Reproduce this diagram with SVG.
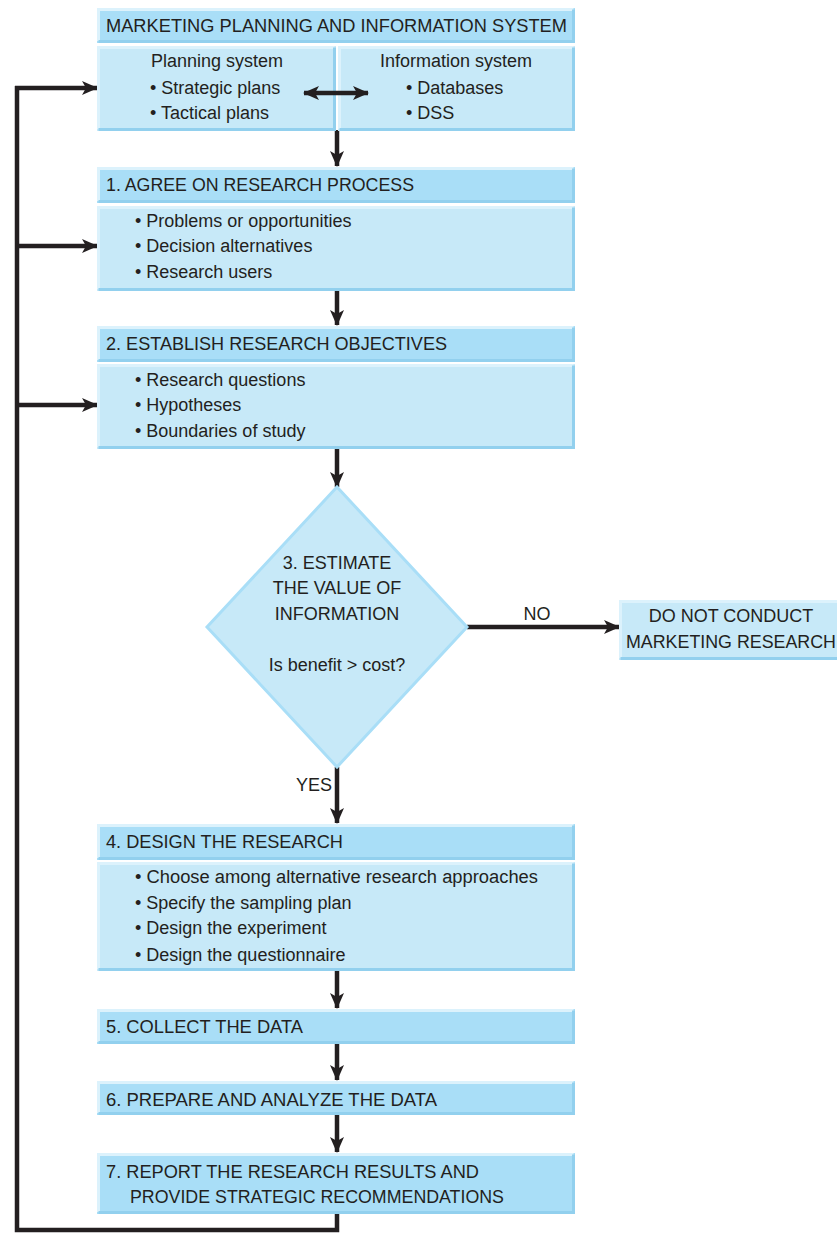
<svg xmlns="http://www.w3.org/2000/svg" width="837" height="1233" viewBox="0 0 837 1233">
<defs>
<style>
.hd{fill:#a9def7}
.bd{fill:#c7e9f8}
.hl{fill:none;stroke:#dcf2fc;stroke-width:3}
.sh{fill:none;stroke:#92d0ee;stroke-width:3}
.t{font-family:"Liberation Sans",Arial,sans-serif;font-size:18px;fill:#231f20}
.c{text-anchor:middle}
.ln{fill:none;stroke:#231f20;stroke-width:4.5}
</style>
<marker id="ah" markerUnits="userSpaceOnUse" markerWidth="16" markerHeight="14" refX="15" refY="7" orient="auto-start-reverse">
<path d="M0,0 L16,7 L0,14 L4,7 Z" fill="#231f20"/>
</marker>
</defs>
<rect width="837" height="1233" fill="#fff"/>

<g id="connectors">
<path class="ln" d="M337,130 V166" marker-end="url(#ah)"/>
<path class="ln" d="M337,290 V325" marker-end="url(#ah)"/>
<path class="ln" d="M337,449 V487" marker-end="url(#ah)"/>
<path class="ln" d="M467,627 H619" marker-end="url(#ah)"/>
<path class="ln" d="M337,767 V823" marker-end="url(#ah)"/>
<path class="ln" d="M337,971 V1008" marker-end="url(#ah)"/>
<path class="ln" d="M337,1044 V1080" marker-end="url(#ah)"/>
<path class="ln" d="M337,1115 V1152" marker-end="url(#ah)"/>
<path class="ln" d="M337,1214 V1230 H17 V86"/>
<path class="ln" d="M15,88 H97" marker-end="url(#ah)"/>
<path class="ln" d="M17,246 H97" marker-end="url(#ah)"/>
<path class="ln" d="M17,405 H97" marker-end="url(#ah)"/>
<text class="t c" x="537" y="620">NO</text>
<text class="t c" x="314" y="791">YES</text>
</g>

<g id="mpis">
<rect class="hd" x="97" y="8" width="478" height="35"/>
<path class="hl" d="M98.5,41 V9.5 H573.5"/>
<path class="sh" d="M98.5,41.5 H573.5 V9.5"/>
<rect class="bd" x="97" y="46" width="239" height="85"/>
<path class="hl" d="M98.5,129 V47.5 H334.5"/>
<path class="sh" d="M98.5,129.5 H334.5 V47.5"/>
<rect class="bd" x="338" y="46" width="237" height="85"/>
<path class="hl" d="M339.5,129 V47.5 H573.5"/>
<path class="sh" d="M339.5,129.5 H573.5 V47.5"/>
<text class="t" x="106" y="32" textLength="461" lengthAdjust="spacingAndGlyphs">MARKETING PLANNING AND INFORMATION SYSTEM</text>
<text class="t c" x="217" y="67">Planning system</text>
<text class="t" x="150" y="94">• Strategic plans</text>
<text class="t" x="150" y="119">• Tactical plans</text>
<text class="t c" x="456" y="67">Information system</text>
<text class="t" x="406" y="94">• Databases</text>
<text class="t" x="406" y="119">• DSS</text>
<path class="ln" d="M304,93 H368" marker-start="url(#ah)" marker-end="url(#ah)"/>
</g>

<g id="step1">
<rect class="hd" x="97" y="167" width="478" height="36"/>
<path class="hl" d="M98.5,201 V168.5 H573.5"/>
<path class="sh" d="M98.5,201.5 H573.5 V168.5"/>
<rect class="bd" x="97" y="206" width="478" height="85"/>
<path class="hl" d="M98.5,289 V207.5 H573.5"/>
<path class="sh" d="M98.5,289.5 H573.5 V207.5"/>
<text class="t" x="106" y="191" textLength="308" lengthAdjust="spacingAndGlyphs">1. AGREE ON RESEARCH PROCESS</text>
<text class="t" x="135" y="227">• Problems or opportunities</text>
<text class="t" x="135" y="252">• Decision alternatives</text>
<text class="t" x="135" y="278">• Research users</text>
</g>

<g id="step2">
<rect class="hd" x="97" y="326" width="478" height="36"/>
<path class="hl" d="M98.5,360 V327.5 H573.5"/>
<path class="sh" d="M98.5,360.5 H573.5 V327.5"/>
<rect class="bd" x="97" y="364" width="478" height="85"/>
<path class="hl" d="M98.5,447 V365.5 H573.5"/>
<path class="sh" d="M98.5,447.5 H573.5 V365.5"/>
<text class="t" x="106" y="350" textLength="341" lengthAdjust="spacingAndGlyphs">2. ESTABLISH RESEARCH OBJECTIVES</text>
<text class="t" x="135" y="386">• Research questions</text>
<text class="t" x="135" y="411">• Hypotheses</text>
<text class="t" x="135" y="437">• Boundaries of study</text>
</g>

<g id="step3">
<polygon points="337,487 467,627 337,767 207,627" fill="#c7e9f8" stroke="#a9def7" stroke-width="3"/>
<text class="t c" x="337" y="569">3. ESTIMATE</text>
<text class="t c" x="337" y="594">THE VALUE OF</text>
<text class="t c" x="337" y="620">INFORMATION</text>
<text class="t c" x="337" y="671">Is benefit &gt; cost?</text>
</g>

<g id="noresearch">
<rect class="bd" x="619" y="600" width="218" height="60"/>
<path class="hl" d="M620.5,658 V601.5 H837"/>
<path class="sh" d="M620.5,658.5 H837"/>
<text class="t c" x="731" y="622">DO NOT CONDUCT</text>
<text class="t" x="626" y="648" textLength="210" lengthAdjust="spacingAndGlyphs">MARKETING RESEARCH</text>
</g>

<g id="step4">
<rect class="hd" x="97" y="824" width="478" height="36"/>
<path class="hl" d="M98.5,858 V825.5 H573.5"/>
<path class="sh" d="M98.5,858.5 H573.5 V825.5"/>
<rect class="bd" x="97" y="862" width="478" height="109"/>
<path class="hl" d="M98.5,969 V863.5 H573.5"/>
<path class="sh" d="M98.5,969.5 H573.5 V863.5"/>
<text class="t" x="106" y="848" textLength="237" lengthAdjust="spacingAndGlyphs">4. DESIGN THE RESEARCH</text>
<text class="t" x="135" y="883" textLength="403" lengthAdjust="spacingAndGlyphs">• Choose among alternative research approaches</text>
<text class="t" x="135" y="909">• Specify the sampling plan</text>
<text class="t" x="135" y="934">• Design the experiment</text>
<text class="t" x="135" y="961">• Design the questionnaire</text>
</g>

<g id="step5">
<rect class="hd" x="97" y="1009" width="478" height="35"/>
<path class="hl" d="M98.5,1042 V1010.5 H573.5"/>
<path class="sh" d="M98.5,1042.5 H573.5 V1010.5"/>
<text class="t" x="106" y="1033" textLength="197" lengthAdjust="spacingAndGlyphs">5. COLLECT THE DATA</text>
</g>

<g id="step6">
<rect class="hd" x="97" y="1081" width="478" height="34"/>
<path class="hl" d="M98.5,1113 V1082.5 H573.5"/>
<path class="sh" d="M98.5,1113.5 H573.5 V1082.5"/>
<text class="t" x="106" y="1106" textLength="331" lengthAdjust="spacingAndGlyphs">6. PREPARE AND ANALYZE THE DATA</text>
</g>

<g id="step7">
<rect class="hd" x="97" y="1153" width="478" height="61"/>
<path class="hl" d="M98.5,1212 V1154.5 H573.5"/>
<path class="sh" d="M98.5,1212.5 H573.5 V1154.5"/>
<text class="t" x="106" y="1178" textLength="373" lengthAdjust="spacingAndGlyphs">7. REPORT THE RESEARCH RESULTS AND</text>
<text class="t" x="130" y="1203" textLength="374" lengthAdjust="spacingAndGlyphs">PROVIDE STRATEGIC RECOMMENDATIONS</text>
</g>
</svg>
